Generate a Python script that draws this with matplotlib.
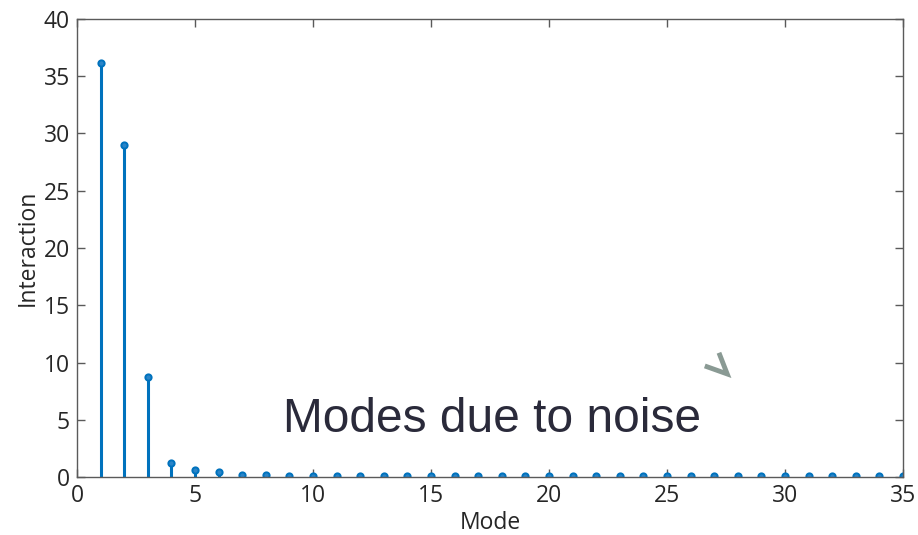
import matplotlib.pyplot as plt
import numpy as np

# interaction strength per mode
modes = np.arange(1, 36)
interaction = [36.2, 29.0, 8.7, 1.2, 0.65, 0.45, 0.2, 0.2, 0.12, 0.12,
               0.12, 0.1, 0.1, 0.1, 0.1, 0.1, 0.1, 0.1, 0.1, 0.1,
               0.1, 0.1, 0.1, 0.1, 0.1, 0.1, 0.1, 0.1, 0.08, 0.08,
               0.08, 0.08, 0.08, 0.08, 0.08]

xticks = [0, 5, 10, 15, 20, 25, 30, 35]
yticks = [0, 5, 10, 15, 20, 25, 30, 35, 40]

blue = '#0072BD'
axcol = '#5a5a5a'
txtcol = '#262626'

plt.rcParams['font.family'] = ['Open Sans', 'DejaVu Sans']

fig = plt.figure(figsize=(9.18, 5.35), dpi=100)
ax = fig.add_axes([0.0839, 0.1084, 0.8998, 0.8561])

markerline, stemlines, baseline = ax.stem(modes, interaction, basefmt=' ')
plt.setp(stemlines, color=blue, linewidth=2.2)
plt.setp(markerline, color=blue, marker='o', markersize=4.5,
         markerfacecolor='#2a84c8', markeredgewidth=1.4)

ax.set_xlim(0, 35)
ax.set_ylim(0, 40)
ax.set_xticks(xticks)
ax.set_yticks(yticks)
ax.tick_params(direction='in', length=6, width=1, colors=axcol,
               labelcolor=txtcol, labelsize=16.5, top=True, right=True,
               labeltop=False, labelright=False, pad=5)
for s in ax.spines.values():
    s.set_color(axcol)
    s.set_linewidth(1)

ax.set_xlabel('Mode', fontsize=16.5, color=txtcol, labelpad=2)
ax.set_ylabel('Interaction', fontsize=16.5, color=txtcol, labelpad=3)

ax.text(0.502, 0.125, 'Modes due to noise', transform=ax.transAxes,
        ha='center', va='center', fontsize=34.5, color='#2a2a3a',
        family=['Liberation Sans', 'DejaVu Sans'])

# small chevron mark
ax.plot([26.6, 27.55, 27.2], [9.7, 9.0, 10.85], color='#8a9a94',
        linewidth=3.5, solid_joinstyle='miter', solid_capstyle='butt')

fig.savefig('out.png', dpi=100)
